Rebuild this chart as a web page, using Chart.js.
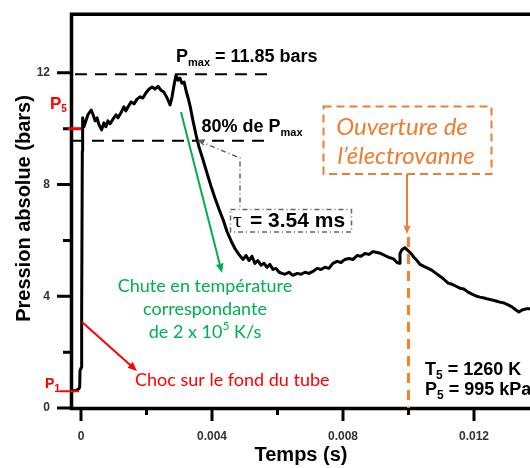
<!DOCTYPE html>
<html>
<head>
<meta charset="utf-8">
<script src="https://cdn.jsdelivr.net/npm/chart.js@4.4.1/dist/chart.umd.min.js"></script>
<style>
  html, body { margin: 0; padding: 0; background: #fff; overflow: hidden; }
  canvas { display: block; }
</style>
</head>
<body>
<canvas id="pressureChart" width="530" height="468"></canvas>
<script>
// Temps (s)
const timeS = [
  -0.00027, -0.00015, -0.00007, -0.00004, -0.00003, 0.00001, 0.00002, 0.00004,
  0.00005, 0.00009, 0.00015, 0.00021, 0.00031, 0.00037, 0.00043, 0.00049, 0.00055, 0.00063,
  0.00070, 0.00076, 0.00082, 0.00089, 0.00098, 0.00107, 0.00113, 0.00122, 0.00131, 0.00137,
  0.00147, 0.00153, 0.00162, 0.00171, 0.00180, 0.00189, 0.00198, 0.00208, 0.00217, 0.00226,
  0.00235, 0.00244, 0.00253, 0.00263, 0.00272, 0.00278, 0.00284, 0.00290, 0.00296, 0.00302,
  0.00308, 0.00315, 0.00321, 0.00327, 0.00333, 0.00342, 0.00351, 0.00360, 0.00373, 0.00385,
  0.00397, 0.00409, 0.00421, 0.00434, 0.00446, 0.00458, 0.00470, 0.00482, 0.00495, 0.00504,
  0.00513, 0.00522, 0.00531, 0.00540, 0.00550, 0.00559, 0.00568, 0.00577, 0.00586, 0.00595,
  0.00605, 0.00614, 0.00623, 0.00635, 0.00647, 0.00660, 0.00672, 0.00684, 0.00696, 0.00708,
  0.00721, 0.00733, 0.00745, 0.00757, 0.00769, 0.00782, 0.00794, 0.00806, 0.00818, 0.00831,
  0.00843, 0.00855, 0.00867, 0.00879, 0.00892, 0.00904, 0.00916, 0.00928, 0.00940, 0.00953,
  0.00965, 0.00971, 0.00974, 0.00980, 0.00989, 0.00998, 0.01008, 0.01017, 0.01026, 0.01035,
  0.01047, 0.01060, 0.01072, 0.01084, 0.01096, 0.01108, 0.01121, 0.01133, 0.01145, 0.01157,
  0.01169, 0.01182, 0.01194, 0.01206, 0.01218, 0.01231, 0.01243, 0.01255, 0.01267, 0.01279,
  0.01292, 0.01304, 0.01316, 0.01328, 0.01337, 0.01347, 0.01359, 0.01371
];

// Pression absolue (bars)
const pressureBar = [
  0.62, 0.63, 0.68, 0.75, 1.35, 1.45, 3.40, 9.20,
  10.39, 10.07, 10.28, 10.50, 10.67, 10.50, 10.28, 10.39, 10.14, 9.96,
  10.21, 10.07, 10.28, 10.18, 10.35, 10.50, 10.39, 10.57, 10.78, 10.64,
  10.85, 10.96, 10.89, 11.06, 11.14, 11.10, 11.28, 11.42, 11.49, 11.42,
  11.52, 11.38, 11.31, 11.10, 10.85, 11.14, 11.56, 11.91, 11.74, 11.81,
  11.63, 11.67, 11.35, 11.10, 10.82, 10.28, 9.79, 9.36, 8.87, 8.40,
  7.94, 7.52, 7.13, 6.74, 6.31, 5.99, 5.71, 5.50, 5.32, 5.46,
  5.28, 5.43, 5.18, 5.28, 5.11, 5.18, 5.04, 5.14, 4.96, 5.00,
  4.86, 4.82, 4.79, 4.86, 4.75, 4.82, 4.79, 4.86, 4.82, 4.89,
  5.00, 4.96, 5.04, 5.00, 5.18, 5.25, 5.21, 5.32, 5.35, 5.32,
  5.46, 5.43, 5.53, 5.50, 5.60, 5.57, 5.53, 5.46, 5.39, 5.35,
  5.21, 5.18, 5.53, 5.67, 5.74, 5.64, 5.53, 5.39, 5.28, 5.14,
  5.07, 5.00, 4.93, 4.82, 4.72, 4.61, 4.47, 4.43, 4.36, 4.29,
  4.26, 4.15, 4.08, 4.01, 3.97, 3.94, 3.90, 3.87, 3.83, 3.79,
  3.76, 3.69, 3.62, 3.51, 3.44, 3.51, 3.55, 3.55
];

const xMajorTicks = [0, 0.004, 0.008, 0.012];
const xMinorTicks = [0.002, 0.006, 0.010];
const xTickLabels = ["0", "0.004", "0.008", "0.012"];
const yMajorTicks = [0, 4, 8, 12];
const yMinorTicks = [2, 6, 10];
const yTickLabels = ["0", "4", "8", "12"];

// niveaux annotés
const pMaxLevel = 11.95;
const p80Level = 9.57;
const p5Level = 10.0;
const p1Level = 0.6;
const valveTime = 0.010;

const SANS = '"Liberation Sans", Arial, sans-serif';
const CAL = 'Lato, "Open Sans", sans-serif';

function arrow(ctx, x1, y1, x2, y2, color, width, head) {
  const a = Math.atan2(y2 - y1, x2 - x1);
  ctx.save();
  ctx.strokeStyle = color;
  ctx.fillStyle = color;
  ctx.lineWidth = width;
  ctx.setLineDash([]);
  ctx.beginPath();
  ctx.moveTo(x1, y1);
  ctx.lineTo(x2 - Math.cos(a) * head * 0.8, y2 - Math.sin(a) * head * 0.8);
  ctx.stroke();
  ctx.beginPath();
  ctx.moveTo(x2, y2);
  ctx.lineTo(x2 - head * Math.cos(a - 0.4), y2 - head * Math.sin(a - 0.4));
  ctx.lineTo(x2 - head * Math.cos(a + 0.4), y2 - head * Math.sin(a + 0.4));
  ctx.closePath();
  ctx.fill();
  ctx.restore();
}

// texte avec indice (P_max, T_5 ...)
function subText(ctx, x, y, main, sub, rest, size, subSize) {
  ctx.font = "bold " + size + "px " + SANS;
  ctx.fillText(main, x, y);
  let w = ctx.measureText(main).width;
  ctx.font = "bold " + subSize + "px " + SANS;
  ctx.fillText(sub, x + w, y + size * 0.32);
  w += ctx.measureText(sub).width;
  ctx.font = "bold " + size + "px " + SANS;
  ctx.fillText(rest, x + w, y);
}

function hLine(ctx, x1, x2, y, color, width, dash) {
  ctx.save();
  ctx.strokeStyle = color;
  ctx.lineWidth = width;
  ctx.setLineDash(dash);
  ctx.beginPath();
  ctx.moveTo(x1, y);
  ctx.lineTo(x2, y);
  ctx.stroke();
  ctx.restore();
}

const annotationsPlugin = {
  id: "annotations",
  afterDraw(chart) {
    const ctx = chart.ctx;
    const xs = chart.scales.x;
    const ys = chart.scales.y;
    const area = chart.chartArea;
    ctx.save();

    // axes épais
    ctx.strokeStyle = "#000";
    ctx.lineWidth = 3.5;
    ctx.setLineDash([]);
    ctx.beginPath();
    ctx.moveTo(area.left - 0.5, area.top - 1.5);
    ctx.lineTo(area.left - 0.5, area.bottom + 2);
    ctx.moveTo(area.left - 2, area.top);
    ctx.lineTo(area.right, area.top);
    ctx.moveTo(area.left - 2, area.bottom + 0.5);
    ctx.lineTo(area.right, area.bottom + 0.5);
    ctx.stroke();

    ctx.lineWidth = 3;
    ctx.beginPath();
    xMajorTicks.forEach(v => {
      const x = xs.getPixelForValue(v);
      ctx.moveTo(x, area.bottom);
      ctx.lineTo(x, area.bottom + 13);
    });
    xMinorTicks.forEach(v => {
      const x = xs.getPixelForValue(v);
      ctx.moveTo(x, area.bottom);
      ctx.lineTo(x, area.bottom + 7);
    });
    yMajorTicks.forEach(v => {
      const y = ys.getPixelForValue(v);
      ctx.moveTo(area.left - 15, y);
      ctx.lineTo(area.left, y);
    });
    yMinorTicks.forEach(v => {
      const y = ys.getPixelForValue(v);
      ctx.moveTo(area.left - 9, y);
      ctx.lineTo(area.left, y);
    });
    ctx.stroke();

    // titres des axes
    ctx.fillStyle = "#000";
    ctx.font = "bold 20px " + SANS;
    ctx.textAlign = "center";
    ctx.textBaseline = "alphabetic";
    ctx.fillText("Temps (s)", 301, 460.5);
    ctx.save();
    ctx.translate(30, 208.5);
    ctx.rotate(-Math.PI / 2);
    ctx.fillText("Pression absolue (bars)", 0, 0);
    ctx.restore();

    // lignes Pmax et 80%
    const yMax = ys.getPixelForValue(pMaxLevel);
    const y80 = ys.getPixelForValue(p80Level);
    hLine(ctx, area.left + 3, xs.getPixelForValue(0.00583), yMax, "#000", 2, [12, 8]);
    hLine(ctx, area.left, xs.getPixelForValue(0.00583), y80, "#000", 2, [12, 8]);

    ctx.textAlign = "left";
    ctx.textBaseline = "middle";
    ctx.fillStyle = "#000";
    subText(ctx, 176, 57, "P", "max", " = 11.85 bars", 18, 11);
    subText(ctx, 201.5, 127, "80% de P", "max", "", 18, 11);

    // P5 / P1
    const x0 = xs.getPixelForValue(0);
    hLine(ctx, area.left - 4, x0, ys.getPixelForValue(p5Level), "#ff0000", 3, []);
    hLine(ctx, area.left - 12, x0 - 2, ys.getPixelForValue(p1Level), "#ff0000", 2, []);
    ctx.fillStyle = "#ff0000";
    subText(ctx, 50, 104, "P", "5", "", 17, 10);
    subText(ctx, 45, 384, "P", "1", "", 14, 11);

    // tau
    ctx.save();
    ctx.strokeStyle = "#666";
    ctx.lineWidth = 1.5;
    ctx.setLineDash([5, 3, 1, 3]);
    ctx.beginPath();
    ctx.moveTo(199, 141);
    ctx.lineTo(240, 158);
    ctx.lineTo(240, 208);
    ctx.stroke();
    ctx.strokeRect(230.5, 209.5, 121, 22.5);
    ctx.setLineDash([]);
    ctx.beginPath();
    ctx.moveTo(205, 140);
    ctx.lineTo(199, 141);
    ctx.lineTo(204, 145);
    ctx.stroke();
    ctx.restore();
    ctx.fillStyle = "#000";
    ctx.font = "22px 'Liberation Serif', serif";
    ctx.fillText("\u03c4", 233, 221);
    ctx.font = "bold 21px " + SANS;
    ctx.fillText("= 3.54 ms", 250, 221);

    // électrovanne
    const xv = xs.getPixelForValue(valveTime);
    ctx.save();
    ctx.strokeStyle = "#ff7f27";
    ctx.lineWidth = 3;
    ctx.setLineDash([10, 7]);
    ctx.beginPath();
    ctx.moveTo(xv, 237);
    ctx.lineTo(xv, area.bottom);
    ctx.stroke();
    ctx.strokeStyle = "#ed7d31";
    ctx.lineWidth = 2;
    ctx.setLineDash([8, 5]);
    ctx.strokeRect(323.5, 106.5, 168, 67.5);
    ctx.restore();
    arrow(ctx, 407, 174, 407, 234, "#ed7d31", 2, 9);
    ctx.fillStyle = "#ed7d31";
    ctx.font = "italic 24px " + CAL;
    ctx.textAlign = "center";
    ctx.fillText("Ouverture de", 402, 127);
    ctx.fillText("l\u2019\u00e9lectrovanne", 406, 156);

    // chute en température
    arrow(ctx, 181, 112, 222, 273, "#00b050", 2, 10);
    ctx.fillStyle = "#00b050";
    ctx.font = "18px " + CAL;
    ctx.fillText("Chute en temp\u00e9rature", 205, 286);
    ctx.fillText("correspondante", 205, 309);
    const l3a = "de 2 x 10", l3b = "5", l3c = " K/s";
    const wa = ctx.measureText(l3a).width, wc = ctx.measureText(l3c).width;
    ctx.font = "12px " + CAL;
    const wb = ctx.measureText(l3b).width;
    const xs3 = 205 - (wa + wb + wc) / 2;
    ctx.textAlign = "left";
    ctx.font = "18px " + CAL;
    ctx.fillText(l3a, xs3, 332);
    ctx.fillText(l3c, xs3 + wa + wb, 332);
    ctx.font = "12px " + CAL;
    ctx.fillText(l3b, xs3 + wa, 326);

    // choc
    arrow(ctx, 82, 322, 137, 371, "#ff0000", 2, 10);
    ctx.fillStyle = "#ff0000";
    ctx.font = "18px " + CAL;
    ctx.fillText("Choc sur le fond du tube", 135, 380);

    // T5 / P5
    ctx.fillStyle = "#000";
    subText(ctx, 425, 370, "T", "5", " = 1260 K", 18, 12);
    subText(ctx, 425, 390, "P", "5", " = 995 kPa", 18, 12);

    ctx.restore();
  }
};

const points = timeS.map((t, i) => ({ x: t, y: pressureBar[i] }));

new Chart(document.getElementById("pressureChart"), {
  type: "line",
  data: {
    datasets: [
      {
        data: points,
        borderColor: "#000",
        borderWidth: 3,
        borderJoinStyle: "round",
        pointRadius: 0,
        tension: 0,
        fill: false,
      },
    ],
  },
  options: {
    responsive: false,
    animation: false,
    layout: { padding: { top: 10, right: 0, left: 0, bottom: 0 } },
    plugins: { legend: { display: false }, tooltip: { enabled: false } },
    scales: {
      x: {
        type: "linear",
        min: -0.000275,
        max: 0.01371,
        afterFit: (scale) => { scale.height = 60; },
        afterBuildTicks: (scale) => { scale.ticks = xMajorTicks.map(v => ({ value: v })); },
        grid: { drawOnChartArea: false, drawTicks: true, tickLength: 12, tickColor: "rgba(0,0,0,0)" },
        border: { display: false },
        ticks: {
          autoSkip: false,
          maxRotation: 0,
          padding: 9,
          color: "#333",
          font: { family: SANS, size: 12, weight: "bold" },
          callback: (value, index) => xTickLabels[index],
        },
      },
      y: {
        min: 0,
        max: 14.1,
        afterFit: (scale) => { scale.width = 72; },
        afterBuildTicks: (scale) => { scale.ticks = yMajorTicks.map(v => ({ value: v })); },
        grid: { drawOnChartArea: false, drawTicks: true, tickLength: 15, tickColor: "rgba(0,0,0,0)" },
        border: { display: false },
        ticks: {
          autoSkip: false,
          padding: 7,
          color: "#333",
          font: { family: SANS, size: 12, weight: "bold" },
          callback: (value, index) => yTickLabels[index],
        },
      },
    },
  },
  plugins: [annotationsPlugin],
});
</script>
</body>
</html>
